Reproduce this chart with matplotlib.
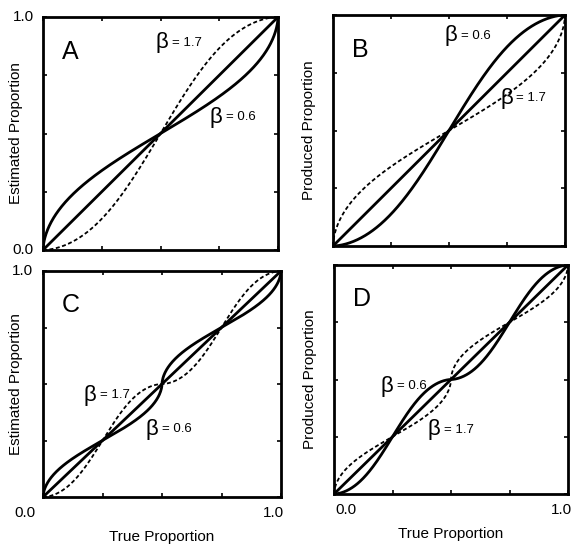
import numpy as np
import matplotlib
matplotlib.use("Agg")
import matplotlib.pyplot as plt

plt.rcParams["font.family"] = ["Liberation Sans", "DejaVu Sans"]

# model parameters shown in the figure
betas = [0.6, 1.7]
beta_styles = {0.6: "-", 1.7: "--"}
panels = ["A", "B", "C", "D"]
cycles = {"A": 1, "B": 1, "C": 2, "D": 2}
inverse = {"A": False, "B": True, "C": False, "D": True}
ylabels = {"A": "Estimated Proportion", "B": "Produced Proportion",
           "C": "Estimated Proportion", "D": "Produced Proportion"}

# label positions (data coords) for beta annotations
beta_pos = {
    "A": {1.7: (0.48, 0.89), 0.6: (0.71, 0.57)},
    "B": {0.6: (0.48, 0.91), 1.7: (0.72, 0.64)},
    "C": {1.7: (0.17, 0.45), 0.6: (0.43, 0.30)},
    "D": {0.6: (0.20, 0.47), 1.7: (0.40, 0.28)},
}

# axes boxes in pixels: left, top, right, bottom
boxes = {"A": (43, 17, 278, 250), "B": (333, 15, 565, 246),
         "C": (43, 271, 281, 497), "D": (334, 265, 568, 494)}

W, H = 576, 549
fig = plt.figure(figsize=(W / 100, H / 100), dpi=100)


def power_model(p, b):
    return p ** b / (p ** b + (1 - p) ** b)


def cyclic(p, b, n):
    seg = np.minimum(np.floor(p * n), n - 1)
    local = p * n - seg
    return (seg + power_model(local, b)) / n


p = np.linspace(0, 1, 600)

for name in panels:
    l, t, r, b = boxes[name]
    ax = fig.add_axes([l / W, 1 - b / H, (r - l) / W, (b - t) / H])
    ax.plot(p, p, color="black", lw=2.0)
    for beta in betas:
        expo = 1 / beta if inverse[name] else beta
        y = cyclic(p, expo, cycles[name])
        if beta_styles[beta] == "--":
            ax.plot(p, y, color="black", lw=1.3, dashes=(2.2, 1.4))
        else:
            ax.plot(p, y, color="black", lw=2.0)
        bx, by = beta_pos[name][beta]
        ax.text(bx, by, "\u03b2", fontsize=16, ha="left", va="center")
        ax.text(bx + 0.07, by, "= %.1f" % beta, fontsize=9.5, ha="left", va="center")

    ax.set_xlim(0, 1)
    ax.set_ylim(0, 1)
    ax.set_xticks([0, 0.25, 0.5, 0.75, 1])
    ax.set_yticks([0, 0.25, 0.5, 0.75, 1])
    ax.set_xticklabels([])
    ax.set_yticklabels([])
    ax.tick_params(direction="in", top=True, right=True, length=3, width=1.2)
    for s in ax.spines.values():
        s.set_linewidth(2)

    ax.text(0.08, 0.85, name, fontsize=18, ha="left", va="center")
    ax.set_ylabel(ylabels[name], fontsize=11, labelpad=11 if name in "AC" else 9)

    if name == "A" or name == "C":
        ax.text(-0.04, 1.0, "1.0", fontsize=11, ha="right", va="center")
    if name == "A":
        ax.text(-0.04, 0.0, "0.0", fontsize=11, ha="right", va="center")
    if name in "CD":
        ax.text(-0.03 if name == "C" else 0.05, -0.07, "0.0", fontsize=11,
                ha="right" if name == "C" else "center", va="center")
        ax.text(0.97, -0.07, "1.0", fontsize=11, ha="center", va="center")
        ax.set_xlabel("True Proportion", fontsize=11, labelpad=20)

fig.savefig("out.png", dpi=100)
